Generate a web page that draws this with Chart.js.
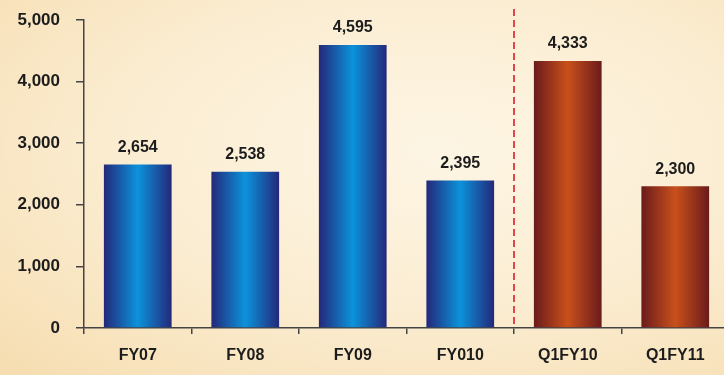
<!DOCTYPE html>
<html>
<head>
<meta charset="utf-8">
<script src="https://cdn.jsdelivr.net/npm/chart.js@4.4.0/dist/chart.umd.min.js"></script>
<style>
  html, body { margin: 0; padding: 0; }
  body {
    width: 724px; height: 375px; overflow: hidden;
    background: radial-gradient(ellipse at 60% 40%, #fdf5e4 0%, #fbedd2 50%, #f6ddb0 100%);
  }
  #wrap { position: relative; width: 730px; height: 375px; }
</style>
</head>
<body>
<div id="wrap"><canvas id="chart"></canvas></div>
<script>
// data
const categories = ['FY07', 'FY08', 'FY09', 'FY010', 'Q1FY10', 'Q1FY11'];
const values = [2654, 2538, 4595, 2395, 4333, 2300];
const yTicks = [0, 1000, 2000, 3000, 4000, 5000];
const annualCount = 4; // first four bars are full years, the rest quarters

const blueStops = ['#24287a', '#0b93db', '#24287a'];
const rustStops = ['#6a1b1b', '#c9501b', '#6a1b1b'];
const labelFont = 'Arial, "Liberation Sans", sans-serif';

function barGradient(ctx) {
  const chart = ctx.chart;
  const { chartArea } = chart;
  if (!chartArea) return blueStops[1];
  const xScale = chart.scales.x;
  const cx = xScale.getPixelForValue(ctx.dataIndex);
  const half = (xScale.width / categories.length) * 0.63 / 2;
  const g = chart.ctx.createLinearGradient(cx - half, 0, cx + half, 0);
  const stops = ctx.dataIndex < annualCount ? blueStops : rustStops;
  g.addColorStop(0, stops[0]);
  g.addColorStop(0.5, stops[1]);
  g.addColorStop(1, stops[2]);
  return g;
}

// value labels above bars
const valueLabels = {
  id: 'valueLabels',
  afterDatasetsDraw(chart) {
    const ctx = chart.ctx;
    const meta = chart.getDatasetMeta(0);
    ctx.save();
    ctx.font = 'bold 16px ' + labelFont;
    ctx.fillStyle = '#1c1c1c';
    ctx.textAlign = 'center';
    ctx.textBaseline = 'middle';
    meta.data.forEach((bar, i) => {
      ctx.fillText(values[i].toLocaleString('en-US'), bar.x, bar.y - 17);
    });
    ctx.restore();
  }
};

// dashed separator between annual and quarterly figures
const separator = {
  id: 'separator',
  afterDraw(chart) {
    const xScale = chart.scales.x;
    const x = (xScale.getPixelForValue(annualCount - 1) + xScale.getPixelForValue(annualCount)) / 2;
    const ctx = chart.ctx;
    ctx.save();
    ctx.strokeStyle = '#e0474a';
    ctx.lineWidth = 2;
    ctx.setLineDash([7, 4]);
    ctx.beginPath();
    ctx.moveTo(x, chart.chartArea.top - 11);
    ctx.lineTo(x, chart.chartArea.bottom);
    ctx.stroke();
    ctx.restore();
  }
};

const canvas = document.getElementById('chart');
new Chart(canvas.getContext('2d'), {
  type: 'bar',
  data: {
    labels: categories,
    datasets: [{
      data: values,
      backgroundColor: barGradient,
      borderWidth: 0,
      barPercentage: 0.63,
      categoryPercentage: 1
    }]
  },
  options: {
    responsive: true,
    maintainAspectRatio: false,
    animation: false,
    layout: { padding: { top: 20, right: 1, left: 0, bottom: 0 } },
    plugins: { legend: { display: false }, tooltip: { enabled: false } },
    scales: {
      x: {
        grid: { display: true, offset: true, drawOnChartArea: false, tickLength: 6, color: '#444', lineWidth: 1.5 },
        border: { display: true, color: '#444', width: 1.5 },
        ticks: {
          color: '#1c1c1c',
          padding: 12,
          font: { family: labelFont, size: 16, weight: 'bold' }
        },
        afterFit: s => { s.height = 47; s.paddingLeft = 0; s.paddingRight = 0; }
      },
      y: {
        min: 0,
        max: 5000,
        afterBuildTicks: s => { s.ticks = yTicks.map(v => ({ value: v })); },
        grid: { display: true, drawOnChartArea: false, tickLength: 8, color: '#444', lineWidth: 1.5 },
        border: { display: true, color: '#444', width: 1.5 },
        ticks: {
          color: '#1c1c1c',
          padding: 16,
          font: { family: labelFont, size: 17, weight: 'bold' },
          callback: v => v.toLocaleString('en-US')
        },
        afterFit: s => { s.width = 84; s.paddingTop = 0; s.paddingBottom = 0; }
      }
    }
  },
  plugins: [valueLabels, separator]
});
</script>
</body>
</html>
